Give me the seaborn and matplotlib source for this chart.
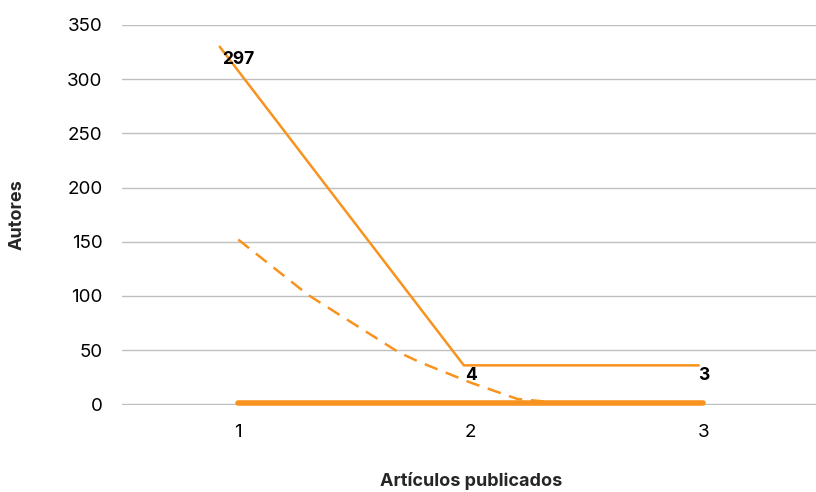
import matplotlib
matplotlib.use("Agg")
import matplotlib.pyplot as plt
import seaborn as sns
import pandas as pd

# =====================================================
# Data
# =====================================================

categories = [1, 2, 3]
bar_values = [1, 1, 1]                 # thick line lying on the axis
value_labels = ["297", "4", "3"]
label_y = [318, 27, 27]

solid_x = [0.92, 1.97, 2.98]
solid_y = [330, 36, 36]

dashed_x = [1.0, 1.3, 1.69, 1.78, 2.0, 2.2, 2.35, 2.5]
dashed_y = [152, 101, 48, 39, 20, 5, 2, 1]

orange = "#F7931E"

# =====================================================
# Figure
# =====================================================

sns.set_theme(style="white")
plt.rcParams["font.family"] = ["Inter", "DejaVu Sans"]

fig = plt.figure(figsize=(8.16, 4.92), dpi=100)
ax = fig.add_axes([0.1495, 0.1768, 0.855, 0.7724])

df_base = pd.DataFrame({"x": categories, "y": bar_values})
sns.lineplot(data=df_base, x="x", y="y", ax=ax, color=orange,
             linewidth=4, solid_capstyle="round", clip_on=False)

df_solid = pd.DataFrame({"x": solid_x, "y": solid_y})
sns.lineplot(data=df_solid, x="x", y="y", ax=ax, color=orange,
             linewidth=1.8, sort=False)

df_dash = pd.DataFrame({"x": dashed_x, "y": dashed_y})
sns.lineplot(data=df_dash, x="x", y="y", ax=ax, color=orange,
             linewidth=1.8, linestyle=(0, (5.5, 3.5)))

for x, y, t in zip(categories, label_y, value_labels):
    ax.text(x, y, t, ha="center", va="center", fontsize=12.5,
            fontweight="bold", color="black")

ax.set_xlim(0.5, 3.5)
ax.set_ylim(-0.6, 350)
ax.set_yticks(range(0, 351, 50))
ax.set_xticks(categories)
ax.yaxis.grid(True, color="#BFBFBF", linewidth=1)
ax.set_axisbelow(True)
for s in ax.spines.values():
    s.set_visible(False)

ax.tick_params(axis="both", length=0, labelsize=13.5, colors="black")
ax.tick_params(axis="x", pad=14)
ax.tick_params(axis="y", pad=14)

ax.set_xlabel("Artículos publicados", fontsize=13, fontweight="bold",
              labelpad=22)
ax.set_ylabel("Autores", fontsize=13, fontweight="bold", labelpad=30)

fig.savefig("out.png", dpi=100)
plt.close()
